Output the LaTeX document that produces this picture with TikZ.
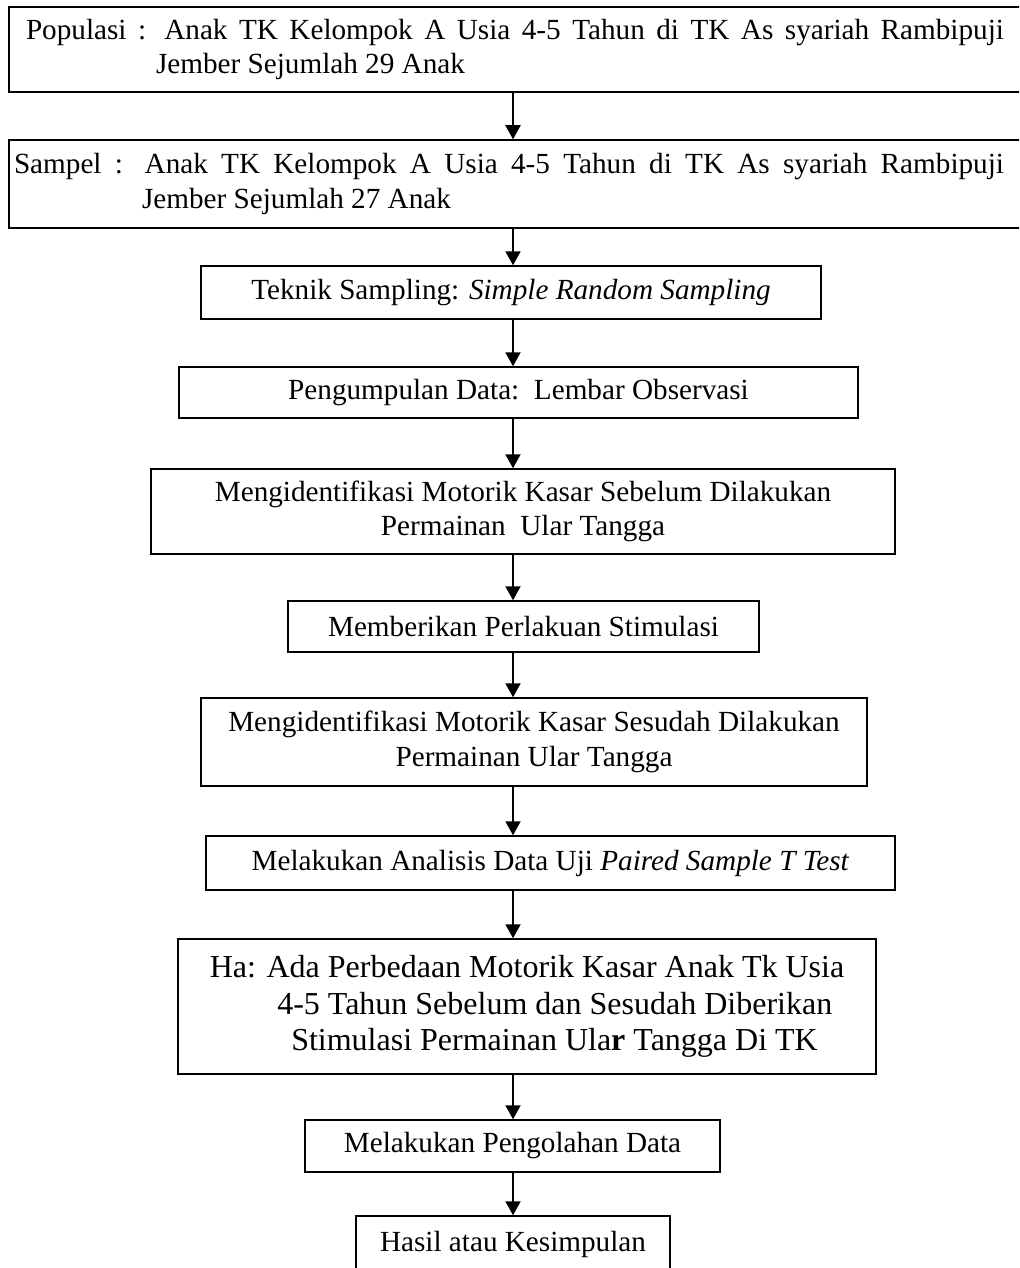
\documentclass[tikz,border=0pt]{standalone}
\usepackage{fontspec}
\setmainfont{Liberation Serif}
\usetikzlibrary{arrows.meta,positioning}

\begin{document}
\begin{tikzpicture}[x=0.5pt, y=-0.5pt,
  every node/.style={font=\fontsize{14.6}{17.2}\selectfont},
  box/.style={draw, line width=0.75pt, align=center, inner sep=0pt},
  arr/.style={line width=1pt, -{Triangle[length=7pt,width=7.5pt]}}]
  \useasboundingbox (0,0) rectangle (1019,1268);
  \clip (0,0) rectangle (1019,1268);
  \coordinate (spine) at (513,0);
  % the two wide boxes run off the right edge
  \node[box, inner xsep=8.5pt, minimum height=42.5pt] (pop) at (519.5,49.5)
    {\parbox{493.5pt}{\hangindent=65pt\hangafter=1\rightskip=4.5pt Populasi : Anak TK Kelompok A Usia 4-5 Tahun di TK As syariah Rambipuji\linebreak Jember Sejumlah 29 Anak}};
  \node[box, inner xsep=2.5pt, minimum height=44pt] (sampel) at (519.5,184)
    {\parbox{505.5pt}{\hangindent=64pt\hangafter=1\rightskip=10.5pt Sampel : Anak TK Kelompok A Usia 4-5 Tahun di TK As syariah Rambipuji\linebreak Jember Sejumlah 27 Anak}};
  \node[box, minimum width=310pt, minimum height=26.5pt] (teknik) at (511,292.5) {Teknik Sampling: \textit{Simple Random Sampling}};
  \node[box, minimum width=339.5pt, minimum height=25.5pt] (kumpul) at (518.5,392.5) {Pengumpulan Data:\ \ Lembar Observasi};
  \node[box, minimum width=372pt, minimum height=42.5pt] (pre) at (523,511.5) {Mengidentifikasi Motorik Kasar Sebelum Dilakukan\\Permainan\ \ Ular Tangga};
  \node[box, minimum width=235.5pt, minimum height=25.5pt] (stim) at (523.5,626.5) {Memberikan Perlakuan Stimulasi};
  \node[box, minimum width=333pt, minimum height=44pt] (post) at (534,742) {Mengidentifikasi Motorik Kasar Sesudah Dilakukan\\Permainan Ular Tangga};
  \node[box, minimum width=344.5pt, minimum height=27pt] (uji) at (550.5,863) {Melakukan Analisis Data Uji \textit{Paired Sample T Test}};
  \node[box, align=left, minimum width=349pt, minimum height=67.5pt, font=\fontsize{16}{18.3}\selectfont] (ha) at (527,1006.5)
    {Ha: Ada Perbedaan Motorik Kasar Anak Tk Usia\\\hspace*{33.75pt}4-5 Tahun Sebelum dan Sesudah Diberikan\\\hspace*{40.75pt}Stimulasi Permainan Ula\textbf{r} Tangga Di TK};
  \node[box, minimum width=207.5pt, minimum height=26pt] (olah) at (512.5,1146) {Melakukan Pengolahan Data};
  \node[box, minimum width=157pt, minimum height=28pt] (hasil) at (513,1244) {Hasil atau Kesimpulan};
  \foreach \a/\b in {pop/sampel, sampel/teknik, teknik/kumpul, kumpul/pre, pre/stim, stim/post, post/uji, uji/ha, ha/olah, olah/hasil}
    \draw[arr] (\a.south -| spine) -- (\b.north -| spine);
\end{tikzpicture}
\end{document}
